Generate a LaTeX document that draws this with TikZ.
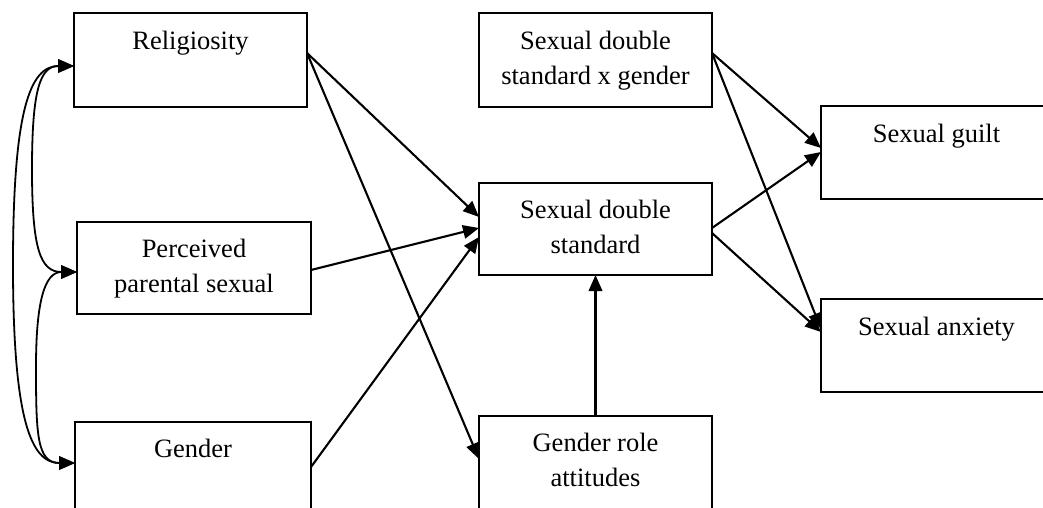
\documentclass[tikz,border=0pt]{standalone}
\usepackage{fontspec}
\setmainfont{Liberation Serif}
\usetikzlibrary{arrows.meta,calc}
\begin{document}
\begin{tikzpicture}[x=1pt,y=-1pt,
  box/.style={draw, line width=2pt, anchor=north west, minimum width=233pt, minimum height=93pt, inner sep=0pt, outer sep=0pt},
  lbl/.style={anchor=north, inner sep=0pt, align=center, font=\fontsize{26.5}{35}\selectfont},
  arr/.style={line width=2.1pt, -{Triangle[length=16pt,width=13.5pt]}},
  dbl/.style={line width=1.8pt, {Triangle[length=16pt,width=13.5pt]}-{Triangle[length=16pt,width=13.5pt]}}]
\useasboundingbox (0,0) rectangle (1043,508);
\clip (0,0) rectangle (1043,508);
% boxes
\node[box, minimum height=94pt] (rel) at (74,13) {};
\node[box, minimum width=234pt, minimum height=92pt] (per) at (77,222) {};
\node[box, minimum width=236pt, minimum height=94pt] (gen) at (75,422) {};
\node[box, minimum height=94pt] (sdsg) at (479,13) {};
\node[box, minimum height=92pt] (sds) at (479,183) {};
\node[box, minimum height=94pt] (gra) at (479,416) {};
\node[box, minimum width=231pt] (guilt) at (821,106) {};
\node[box, minimum width=231pt] (anx) at (821,299) {};
% labels
\node[lbl] (rel-t) at ([yshift=-17pt]rel.north) {\rule{0pt}{19pt}Religiosity};
\node[lbl] (per-t) at ([yshift=-16pt]per.north) {\rule{0pt}{19pt}Perceived\\parental sexual};
\node[lbl] (gen-t) at ([yshift=-16pt]gen.north) {\rule{0pt}{19pt}Gender};
\node[lbl] (sdsg-t) at ([yshift=-17pt]sdsg.north) {\rule{0pt}{19pt}Sexual double\\standard x gender};
\node[lbl] (sds-t) at ([yshift=-16.5pt]sds.north) {\rule{0pt}{19pt}Sexual double\\standard};
\node[lbl] (gra-t) at ([yshift=-16.5pt]gra.north) {\rule{0pt}{19pt}Gender role\\attitudes};
\node[lbl] (guilt-t) at ([yshift=-17pt]guilt.north) {\rule{0pt}{19pt}Sexual guilt};
\node[lbl] (anx-t) at ([yshift=-17pt]anx.north) {\rule{0pt}{19pt}Sexual anxiety};
% straight paths
\draw[arr] ([yshift=-40pt]rel.north east) -- ([yshift=-34pt]sds.north west);
\draw[arr] ([yshift=-40pt]rel.north east) -- ([yshift=-43pt]gra.north west);
\draw[arr] ([yshift=-48pt]per.north east) -- ([yshift=-45pt]sds.north west);
\draw[arr] ([yshift=-45pt]gen.north east) -- ([yshift=-54pt]sds.north west);
\draw[arr] (gra.north) -- (sds.south);
\draw[arr] ([yshift=-40pt]sdsg.north east) -- ([yshift=-42pt]guilt.north west);
\draw[arr] ([yshift=-40pt]sdsg.north east) -- ([yshift=-30pt]anx.north west);
\draw[arr] ([yshift=-45pt]sds.north east) -- ([yshift=-46pt]guilt.north west);
\draw[arr] ([yshift=-50pt]sds.north east) -- ([yshift=-33pt]anx.north west);
% correlations
\coordinate (c1) at (32,169);
\coordinate (c2) at (13,265);
\coordinate (c3) at (36,367);
\draw[dbl] ([yshift=-53pt]rel.north west) .. controls +(-34,0) and +(0,-79) .. (c1)
  .. controls +(0,79) and +(-37,0) .. ([yshift=-50pt]per.north west);
\draw[dbl] ([yshift=-53pt]rel.north west) .. controls +(-44,0) and +(0,-155) .. (c2)
  .. controls +(0,155) and +(-44,0) .. ([yshift=-41pt]gen.north west);
\draw[dbl] ([yshift=-50pt]per.north west) .. controls +(-32,0) and +(0,-67) .. (c3)
  .. controls +(0,68) and +(-38,0) .. ([yshift=-41pt]gen.north west);
\end{tikzpicture}
\end{document}
